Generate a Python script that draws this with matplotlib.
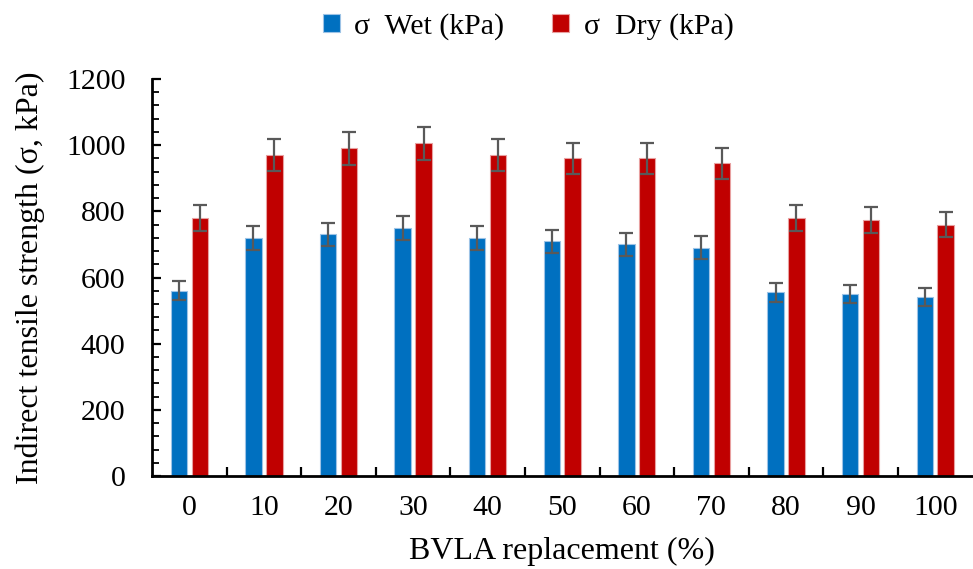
import matplotlib
matplotlib.use("Agg")
import matplotlib.pyplot as plt
from matplotlib.ticker import MultipleLocator, FixedLocator
import numpy as np

# data
replacement = ["0", "10", "20", "30", "40", "50", "60", "70", "80", "90", "100"]
sigma_wet = [560, 720, 730, 750, 720, 710, 700, 690, 555, 550, 540]
sigma_dry = [780, 970, 990, 1005, 970, 960, 960, 945, 780, 775, 760]
err_wet = [28, 36, 36, 37, 36, 35, 35, 34, 28, 27, 27]
err_dry = [39, 48, 50, 50, 48, 48, 48, 47, 39, 39, 38]

plt.rcParams['font.family'] = ['Liberation Serif', 'DejaVu Serif']

fig = plt.figure(figsize=(9.73, 5.69), dpi=100)
ax = fig.add_axes([0.1562, 0.1634, 0.8433, 0.6978])

x = np.arange(len(replacement))
w = 0.22
off = 0.14
err_kw = dict(ecolor='#595959', elinewidth=1.6, capsize=5, capthick=1.6)

ax.bar(x - off, sigma_wet, w, color='#0070C0', edgecolor='#9DC3E6', linewidth=0.8,
       yerr=err_wet, error_kw=err_kw, label='σ  Wet (kPa)')
ax.bar(x + off, sigma_dry, w, color='#C00000', edgecolor='#E8A0A0', linewidth=0.8,
       yerr=err_dry, error_kw=err_kw, label='σ  Dry (kPa)')

ax.set_xlim(-0.5, len(replacement) - 0.5)
ax.set_ylim(0, 1200)
ax.set_xticks(x)
ax.set_xticklabels(replacement)
ax.xaxis.set_minor_locator(FixedLocator(x[:-1] + 0.5))
ax.yaxis.set_major_locator(MultipleLocator(200))
ax.yaxis.set_minor_locator(MultipleLocator(40))

ax.tick_params(axis='x', which='major', length=0, pad=14, labelsize=21.5)
ax.tick_params(axis='x', which='minor', direction='in', length=6.5, width=1.6)
ax.tick_params(axis='y', which='major', direction='in', length=6.5, width=1.6, pad=19, labelsize=21.5)
ax.tick_params(axis='y', which='minor', direction='in', length=5, width=1.3)

for s in ['top', 'right']:
    ax.spines[s].set_visible(False)
for s in ['left', 'bottom']:
    ax.spines[s].set_linewidth(2)

ax.set_xlabel('BVLA replacement (%)', fontsize=23, labelpad=11)
ax.set_ylabel('Indirect tensile strength (σ, kPa)', fontsize=23, labelpad=15)

fig.legend(loc='upper center', bbox_to_anchor=(0.543, 1.025), ncol=2, frameon=False,
           fontsize=21.5, handlelength=0.55, handleheight=0.55, handletextpad=0.5,
           columnspacing=1.6)

fig.savefig('out.png', dpi=100)
